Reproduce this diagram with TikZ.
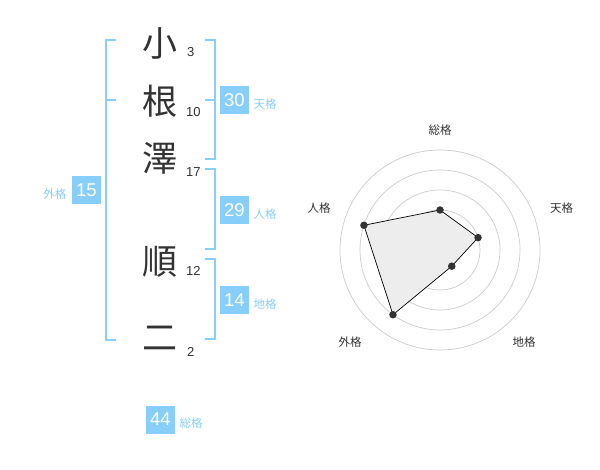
\documentclass[tikz,border=0pt]{standalone}
\usetikzlibrary{calc}
\usepackage{fontspec}
\setmainfont{Liberation Sans}
\newfontfamily\jp{Noto Sans CJK JP}
\definecolor{sky}{HTML}{87CEFA}
\definecolor{ink}{HTML}{333333}
\definecolor{ringc}{HTML}{CCCCCC}
\begin{document}
\begin{tikzpicture}[x=1pt,y=-1pt,
  kanji/.style={inner sep=0pt,text=ink,font=\jp\fontsize{35}{35}\selectfont},
  strokes/.style={inner sep=0pt,anchor=base west,text=ink,font=\fontsize{13}{13}\selectfont},
  box/.style={fill=sky,text=white,inner sep=0pt,minimum width=29pt,minimum height=28pt,font=\fontsize{18.5}{18.5}\selectfont},
  lab/.style={inner sep=0pt,anchor=west,text=sky,font=\jp\fontsize{11.5}{11.5}\selectfont},
  brk/.style={draw=sky,line width=2pt},
  ring/.style={draw=ringc,line width=0.7pt},
  poly/.style={draw=black,line width=0.7pt,fill=black!7},
  dot/.style={circle,fill=ink,inner sep=0pt,minimum size=7.5pt},
  rlab/.style={inner sep=0pt,text=ink,font=\jp\fontsize{11.5}{11.5}\selectfont}]
\useasboundingbox[fill=white] (0,0) rectangle (600,470);

% characters
\node[kanji] (k1) at (160,43) {小};
\node[kanji] (k2) at (160,101) {根};
\node[kanji] (k3) at (160,158) {澤};
\node[kanji] (k4) at (160,262) {順};
\node[kanji] (k5) at (160,338) {二};
% stroke counts
\node[strokes] (s1) at (187,57) {3};
\node[strokes] (s2) at (186,117) {10};
\node[strokes] (s3) at (186,177) {17};
\node[strokes] (s4) at (186,276) {12};
\node[strokes] (s5) at (187,357) {2};

% brackets
\draw[brk] (116,40) -- (105.5,40) -- (105.5,340) -- (116,340);
\draw[brk] (105.5,100) -- (116,100);
\draw[brk] (205,40) -- (214.5,40) -- (214.5,159.5) -- (205,159.5);
\draw[brk] (205,100) -- (214.5,100);
\draw[brk] (205,169.5) -- (214.5,169.5) -- (214.5,249.5) -- (205,249.5);
\draw[brk] (205,259.5) -- (214.5,259.5) -- (214.5,339.5) -- (205,339.5);

% boxes and labels
\node[box] (b30) at (234.5,100) {30};
\node[lab] (l30) at (253.5,104.5) {天格};
\node[box] (b29) at (234.5,210.5) {29};
\node[lab] (l29) at (253.5,214.5) {人格};
\node[box] (b14) at (234.5,300.5) {14};
\node[lab] (l14) at (253.5,304.5) {地格};
\node[box] (b15) at (86.5,190.5) {15};
\node[lab,anchor=east] (l15) at (66.5,194.5) {外格};
\node[box] (b44) at (160.5,419.5) {44};
\node[lab] (l44) at (179.5,423.5) {総格};

% radar chart
\coordinate (c) at (440,250);
\foreach \r in {20,40,60,80,100} \draw[ring] (c) circle[radius=\r];
\fill[ringc] (c) circle[radius=3.5];
\coordinate (pA) at ($(c)+(-90:40)$);
\coordinate (pB) at ($(c)+(-18:40)$);
\coordinate (pC) at ($(c)+(54:20)$);
\coordinate (pD) at ($(c)+(126:80)$);
\coordinate (pE) at ($(c)+(-162:80)$);
\draw[poly] (pA) -- (pB) -- (pC) -- (pD) -- (pE) -- cycle;
\foreach \p in {pA,pB,pC,pD,pE} \node[dot] at (\p) {};
\node[rlab] (rA) at (440,130) {総格};
\node[rlab] (rB) at (561.5,208) {天格};
\node[rlab] (rC) at (524,342) {地格};
\node[rlab] (rD) at (350,342) {外格};
\node[rlab] (rE) at (319,208) {人格};
\end{tikzpicture}
\end{document}
